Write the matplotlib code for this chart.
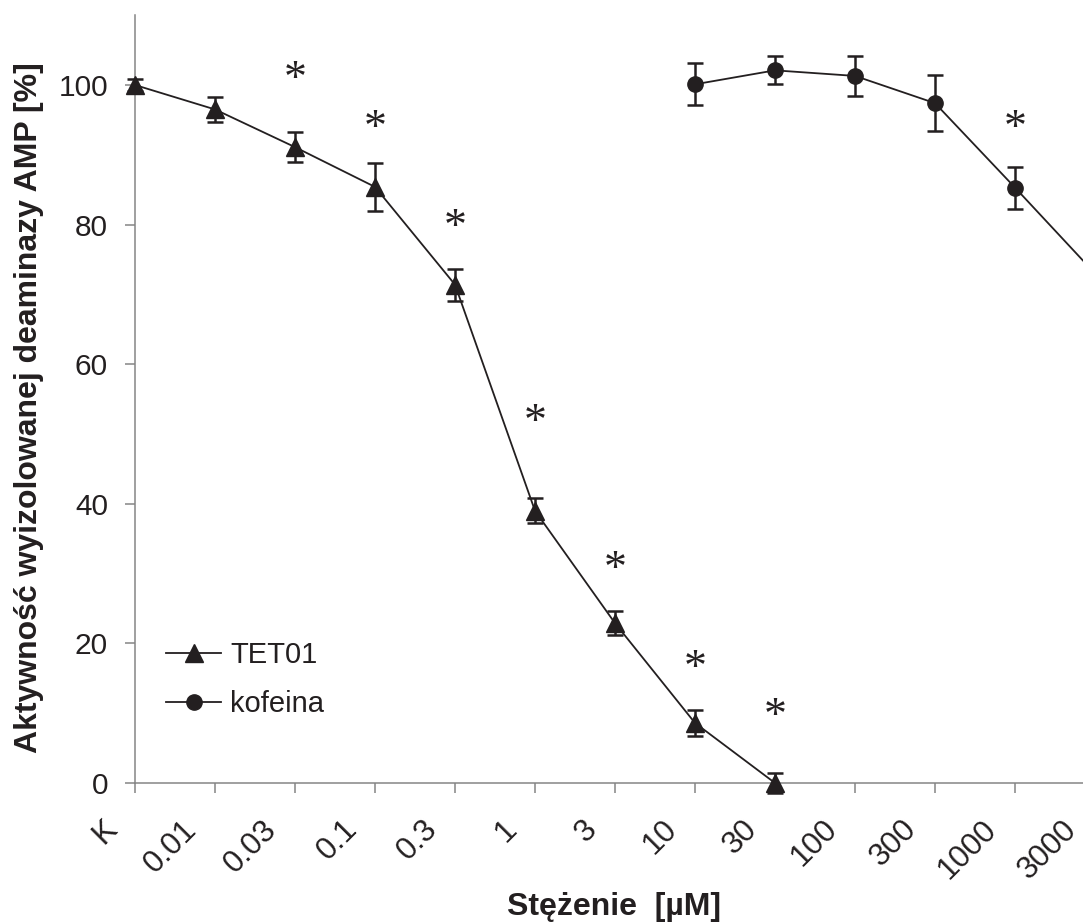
import matplotlib
matplotlib.use("Agg")
import matplotlib.pyplot as plt
from matplotlib.transforms import ScaledTranslation
from matplotlib.lines import Line2D

# ---- data ----
categories = ['K', '0.01', '0.03', '0.1', '0.3', '1', '3', '10', '30',
              '100', '300', '1000', '3000']
tet_labels = ['K', '0.01', '0.03', '0.1', '0.3', '1', '3', '10', '30']
tet_values = [100.0, 96.5, 91.1, 85.4, 71.4, 39.0, 22.9, 8.6, 0.0]
tet_err = [0.8, 1.8, 2.2, 3.4, 2.3, 1.8, 1.7, 1.9, 1.5]
kof_labels = ['10', '30', '100', '300', '1000', '3000']
kof_values = [100.1, 102.1, 101.3, 97.4, 85.3, 73.0]
kof_err = [3.0, 2.0, 2.9, 4.0, 3.0, 3.0]
star_labels = ['0.03', '0.1', '0.3', '1', '3', '10', '30', '1000']
star_y = [101.9, 94.8, 80.7, 52.7, 31.7, 17.5, 10.6, 94.8]
yticks = [0, 20, 40, 60, 80, 100]

DARK = '#231f20'
GRAY = '#858585'

plt.rcParams['font.family'] = ['Liberation Sans', 'DejaVu Sans']

W, H = 1083, 924
fig = plt.figure(figsize=(W / 100, H / 100), dpi=100)
px_x = 80.0
px_y = 6.98
ax = fig.add_axes([135 / W, (H - 783) / H, 12.5 * px_x / W, 110 * px_y / H])

idx = {c: i for i, c in enumerate(categories)}
tx = [idx[c] for c in tet_labels]
kx = [idx[c] for c in kof_labels]
sx = [idx[c] for c in star_labels]

# error bars
for xs, ys, es in ((tx, tet_values, tet_err), (kx, kof_values, kof_err)):
    eb = ax.errorbar(xs, ys, yerr=es, fmt='none', ecolor=DARK, elinewidth=1.8,
                     capsize=5.8, capthick=1.8, zorder=3, clip_on=False)
    for part in eb.lines[1] + eb.lines[2]:
        part.set_clip_on(False)

l1, = ax.plot(tx, tet_values, color=DARK, lw=1.3, marker='^', ms=13,
              mfc=DARK, mec=DARK, zorder=4, clip_on=False, label='TET01')
l2, = ax.plot(kx, kof_values, color=DARK, lw=1.3, marker='o', ms=11,
              mfc=DARK, mec=DARK, zorder=4, clip_on=False, label='kofeina')

# significance asterisks
for x, y in zip(sx, star_y):
    ax.annotate('*', xy=(x, y), xytext=(0, -14.5), textcoords='offset points',
                ha='center', va='baseline', fontsize=33, color=DARK,
                family=['Liberation Serif', 'DejaVu Serif'])

ax.set_xlim(0, 12.5)
ax.set_ylim(0, 110)
ax.set_xticks(range(len(categories)))
ax.set_xticklabels(categories)
ax.set_yticks(yticks)
ax.set_yticklabels([str(v) for v in yticks])

for s in ('top', 'right'):
    ax.spines[s].set_visible(False)
for s in ('left', 'bottom'):
    ax.spines[s].set_color(GRAY)
    ax.spines[s].set_linewidth(1.1)

ax.tick_params(axis='both', direction='out', length=7.5, width=1.1,
               color=GRAY, labelcolor=DARK, labelsize=21.5)
ax.tick_params(axis='y', pad=12)
ax.tick_params(axis='x', pad=15, labelsize=22.5)

off = ScaledTranslation(-12 / 100, 0, fig.dpi_scale_trans)
for lab in ax.get_xticklabels():
    lab.set_rotation(45)
    lab.set_ha('right')
    lab.set_va('top')
    lab.set_transform(lab.get_transform() + off)

# axis titles
fig.text(29 / W, 1 - 408 / H, 'Aktywność wyizolowanej deaminazy AMP [%]',
         rotation=90, ha='center', va='center', fontsize=23,
         fontweight='bold', color=DARK)
fig.text(614 / W, 1 - 915 / H, 'Stężenie  [µM]', ha='center', va='baseline',
         fontsize=23, fontweight='bold', color=DARK)

# legend
h1 = Line2D([], [], color=DARK, lw=1.3, marker='^', ms=13, mfc=DARK, mec=DARK)
h2 = Line2D([], [], color=DARK, lw=1.3, marker='o', ms=11, mfc=DARK, mec=DARK)
fig.legend([h1, h2], ['TET01', 'kofeina'], loc='upper left',
           bbox_to_anchor=(166 / W, 1 - 641 / H), frameon=False,
           fontsize=21, handlelength=1.9, handletextpad=0.3,
           labelspacing=0.72, borderpad=0, borderaxespad=0,
           labelcolor=DARK)

fig.savefig('out.png', dpi=100)
